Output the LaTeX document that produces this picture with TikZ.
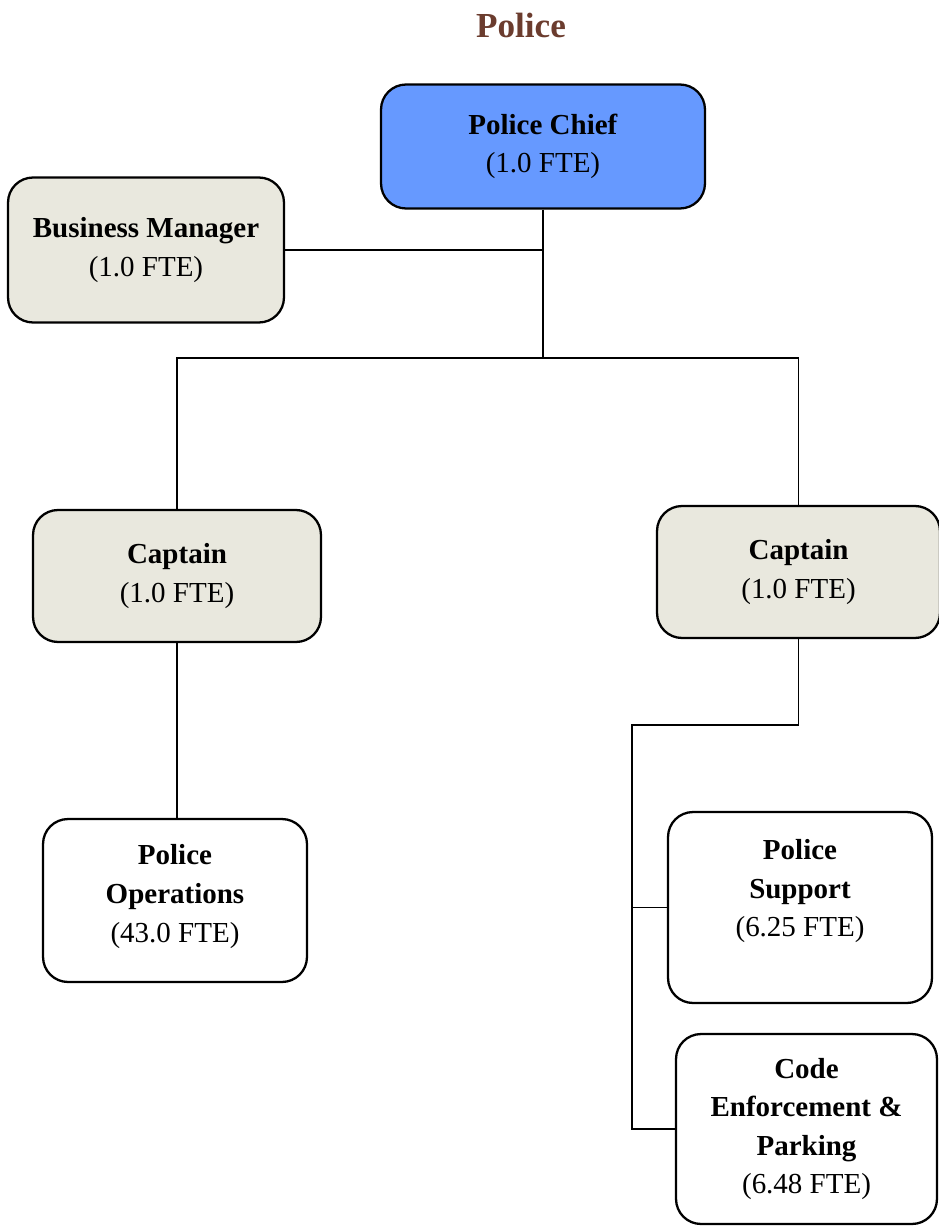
\documentclass[tikz,border=0pt]{standalone}
\usepackage{fontspec}
\setmainfont{Liberation Serif}
\usetikzlibrary{positioning}

\definecolor{chiefblue}{HTML}{6699FF}
\definecolor{boxgray}{HTML}{E9E8DE}
\definecolor{titlebrown}{HTML}{6B3C2E}

\begin{document}
\begin{tikzpicture}[x=0.02cm,y=-0.02cm,
				every node/.style={
						align=center,
						font=\fontsize{16.5}{22}\selectfont},
				unit/.style={
						draw,
						line width=1.3pt,
						rounded corners=0.5cm,
						inner sep=0pt},
				link/.style={line width=1.1pt}]

			\useasboundingbox (0,0) rectangle (938,1226);

			\node[font=\fontsize{20}{24}\selectfont\bfseries, text=titlebrown] (title) at (521,25) {Police};

			\node[unit, fill=chiefblue, minimum width=6.48cm, minimum height=2.48cm] (chief) at (543,146.5) {\textbf{Police Chief}\\(1.0 FTE)};
			\node[unit, fill=boxgray, minimum width=5.52cm, minimum height=2.9cm] (busmgr) at (146,250) {\textbf{Business Manager}\\(1.0 FTE)};
			\node[unit, fill=boxgray, minimum width=5.76cm, minimum height=2.64cm] (capl) at (177,576) {\textbf{Captain}\\(1.0 FTE)};
			\node[unit, fill=boxgray, minimum width=5.66cm, minimum height=2.64cm] (capr) at (798.5,572) {\textbf{Captain}\\(1.0 FTE)};
			\node[unit, minimum width=5.28cm, minimum height=3.26cm] (ops) at (175,900.5) {\textbf{Police}\\\textbf{Operations}\\(43.0 FTE)\\[-14pt]~};
			\node[unit, minimum width=5.28cm, minimum height=3.82cm] (support) at (800,907.5) {\textbf{Police}\\\textbf{Support}\\(6.25 FTE)\\~};
			\node[unit, minimum width=5.22cm, minimum height=3.8cm] (code) at (806.5,1129) {\textbf{Code}\\\textbf{Enforcement \&}\\\textbf{Parking}\\(6.48 FTE)};

			\coordinate (split) at (543,358);
			\coordinate (bus) at (632,725);

			\draw[link] (chief.south) -- (split);
			\draw[link] (busmgr.east) -- (busmgr.east -| chief.south);
			\draw[link] (capl.north) |- (split) -| (capr.north);
			\draw[link] (capl.south) -- (capl.south |- ops.north);
			\draw[link] (capr.south) |- (bus) -- (bus |- code.west) -- (code.west);
			\draw[link] (bus |- support.west) -- (support.west);

		\end{tikzpicture}
\end{document}
